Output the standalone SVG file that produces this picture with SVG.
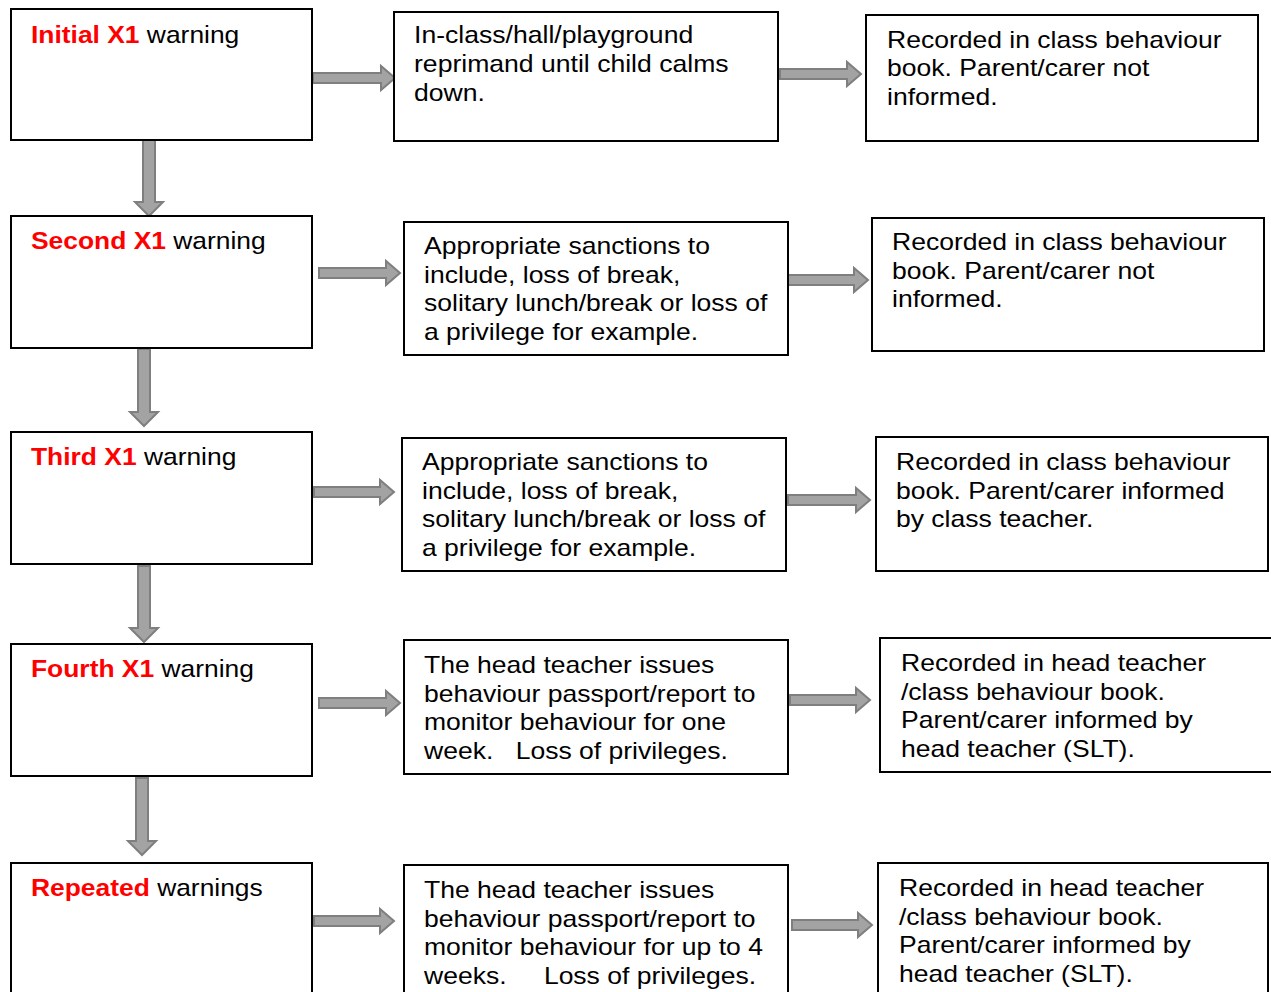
<svg xmlns="http://www.w3.org/2000/svg" width="1271" height="992" viewBox="0 0 1271 992">
<style>
.box{fill:#fff;stroke:#000;stroke-width:2}
.t{font-family:"Liberation Sans",Arial,sans-serif;font-size:24px;fill:#000}
.r{fill:#ff0000;font-weight:bold}
.arr{fill:#a3a3a3;stroke:#7f7f7f;stroke-width:2;stroke-linejoin:miter}
</style>
<rect width="1271" height="992" fill="#fff"/>
<g id="connectors">
<path class="arr" d="M313,73 L381,73 L381,66 L395,78 L381,90 L381,83 L313,83 Z"/>
<path class="arr" d="M780,69 L847,69 L847,62 L861,74 L847,86 L847,79 L780,79 Z"/>
<path class="arr" d="M319,268 L386,268 L386,261 L400,273 L386,285 L386,278 L319,278 Z"/>
<path class="arr" d="M788,275 L854,275 L854,268 L868,280 L854,292 L854,285 L788,285 Z"/>
<path class="arr" d="M314,487 L380,487 L380,480 L394,492 L380,504 L380,497 L314,497 Z"/>
<path class="arr" d="M788,495 L856,495 L856,488 L870,500 L856,512 L856,505 L788,505 Z"/>
<path class="arr" d="M319,698 L386,698 L386,691 L400,703 L386,715 L386,708 L319,708 Z"/>
<path class="arr" d="M790,695 L856,695 L856,688 L870,700 L856,712 L856,705 L790,705 Z"/>
<path class="arr" d="M314,916 L380,916 L380,909 L394,921 L380,933 L380,926 L314,926 Z"/>
<path class="arr" d="M792,920 L858,920 L858,913 L872,925 L858,937 L858,930 L792,930 Z"/>
<path class="arr" d="M143,140 L143,202 L135,202 L149,216 L163,202 L155,202 L155,140 Z"/>
<path class="arr" d="M138,349 L138,412 L130,412 L144,426 L158,412 L150,412 L150,349 Z"/>
<path class="arr" d="M138,566 L138,628 L130,628 L144,642 L158,628 L150,628 L150,566 Z"/>
<path class="arr" d="M136,778 L136,841 L128,841 L142,855 L156,841 L148,841 L148,778 Z"/>
</g>
<g id="n1a"><rect class="box" x="11" y="9" width="301" height="131"/>
<g transform="translate(31,43) scale(1.1,1)"><text class="t"><tspan class="r">Initial X1</tspan> warning</text></g></g>
<g id="n1b"><rect class="box" x="394" y="12" width="384" height="129"/>
<g transform="translate(414,43) scale(1.108,1)"><text class="t"><tspan x="0">In-class/hall/playground</tspan><tspan x="0" dy="28.8">reprimand until child calms</tspan><tspan x="0" dy="28.8">down.</tspan></text></g></g>
<g id="n1c"><rect class="box" x="866" y="15" width="392" height="126"/>
<g transform="translate(887,48) scale(1.105,1)"><text class="t"><tspan x="0">Recorded in class behaviour</tspan><tspan x="0" dy="28.5">book. Parent/carer not</tspan><tspan x="0" dy="28.5">informed.</tspan></text></g></g>

<g id="n2a"><rect class="box" x="11" y="216" width="301" height="132"/>
<g transform="translate(31,249) scale(1.1,1)"><text class="t"><tspan class="r">Second X1</tspan> warning</text></g></g>
<g id="n2b"><rect class="box" x="404" y="222" width="384" height="133"/>
<g transform="translate(424,254) scale(1.105,1)"><text class="t"><tspan x="0">Appropriate sanctions to</tspan><tspan x="0" dy="28.6">include, loss of break,</tspan><tspan x="0" dy="28.6">solitary lunch/break or loss of</tspan><tspan x="0" dy="28.6">a privilege for example.</tspan></text></g></g>
<g id="n2c"><rect class="box" x="872" y="218" width="392" height="133"/>
<g transform="translate(892,250) scale(1.105,1)"><text class="t"><tspan x="0">Recorded in class behaviour</tspan><tspan x="0" dy="28.6">book. Parent/carer not</tspan><tspan x="0" dy="28.6">informed.</tspan></text></g></g>

<g id="n3a"><rect class="box" x="11" y="432" width="301" height="132"/>
<g transform="translate(31,465) scale(1.1,1)"><text class="t"><tspan class="r">Third X1</tspan> warning</text></g></g>
<g id="n3b"><rect class="box" x="402" y="438" width="384" height="133"/>
<g transform="translate(422,470) scale(1.105,1)"><text class="t"><tspan x="0">Appropriate sanctions to</tspan><tspan x="0" dy="28.6">include, loss of break,</tspan><tspan x="0" dy="28.6">solitary lunch/break or loss of</tspan><tspan x="0" dy="28.6">a privilege for example.</tspan></text></g></g>
<g id="n3c"><rect class="box" x="876" y="437" width="392" height="134"/>
<g transform="translate(896,470) scale(1.105,1)"><text class="t"><tspan x="0">Recorded in class behaviour</tspan><tspan x="0" dy="28.6">book. Parent/carer informed</tspan><tspan x="0" dy="28.6">by class teacher.</tspan></text></g></g>

<g id="n4a"><rect class="box" x="11" y="644" width="301" height="132"/>
<g transform="translate(31,677) scale(1.1,1)"><text class="t"><tspan class="r">Fourth X1</tspan> warning</text></g></g>
<g id="n4b"><rect class="box" x="404" y="640" width="384" height="134"/>
<g transform="translate(424,673) scale(1.105,1)"><text class="t"><tspan x="0">The head teacher issues</tspan><tspan x="0" dy="28.6">behaviour passport/report to</tspan><tspan x="0" dy="28.6">monitor behaviour for one</tspan><tspan x="0" dy="28.6">week.</tspan><tspan x="83">Loss of privileges.</tspan></text></g></g>
<g id="n4c"><rect class="box" x="880" y="638" width="394" height="134"/>
<g transform="translate(901,671) scale(1.105,1)"><text class="t"><tspan x="0">Recorded in head teacher</tspan><tspan x="0" dy="28.6">/class behaviour book.</tspan><tspan x="0" dy="28.6">Parent/carer informed by</tspan><tspan x="0" dy="28.6">head teacher (SLT).</tspan></text></g></g>

<g id="n5a"><rect class="box" x="11" y="863" width="301" height="140"/>
<g transform="translate(31,896) scale(1.1,1)"><text class="t"><tspan class="r">Repeated</tspan> warnings</text></g></g>
<g id="n5b"><rect class="box" x="404" y="865" width="384" height="140"/>
<g transform="translate(424,898) scale(1.105,1)"><text class="t"><tspan x="0">The head teacher issues</tspan><tspan x="0" dy="28.6">behaviour passport/report to</tspan><tspan x="0" dy="28.6">monitor behaviour for up to 4</tspan><tspan x="0" dy="28.6">weeks.</tspan><tspan x="108.5">Loss of privileges.</tspan></text></g></g>
<g id="n5c"><rect class="box" x="878" y="863" width="390" height="140"/>
<g transform="translate(899,896) scale(1.105,1)"><text class="t"><tspan x="0">Recorded in head teacher</tspan><tspan x="0" dy="28.6">/class behaviour book.</tspan><tspan x="0" dy="28.6">Parent/carer informed by</tspan><tspan x="0" dy="28.6">head teacher (SLT).</tspan></text></g></g>
</svg>
